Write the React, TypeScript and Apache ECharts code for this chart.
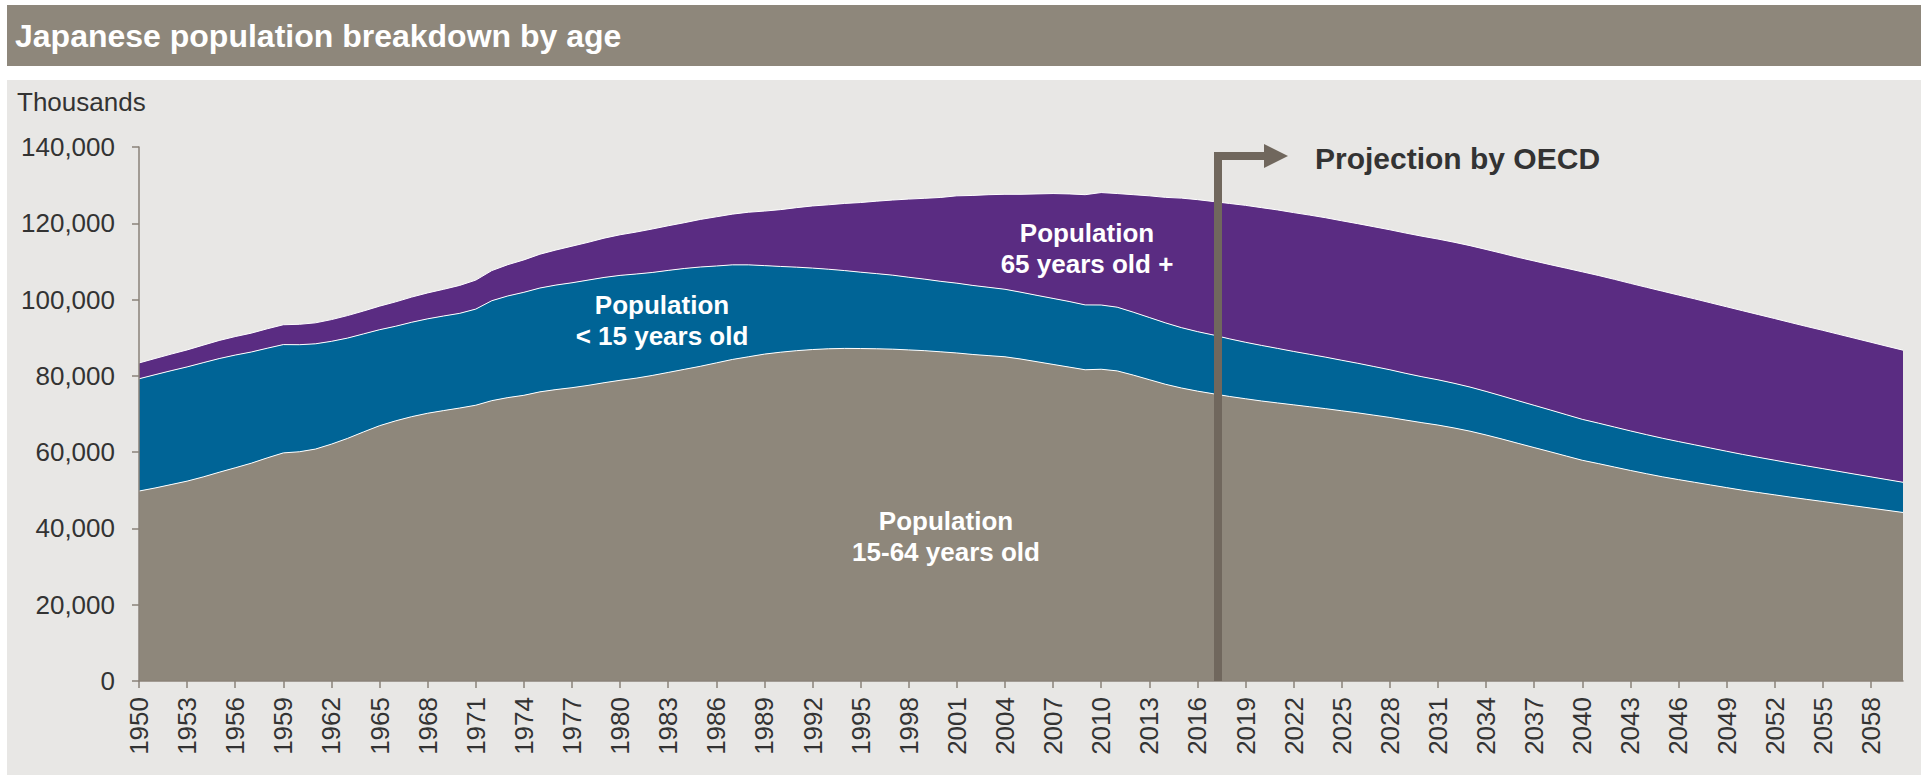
import React, { useEffect, useRef } from "react";
import * as echarts from "echarts";

const years: string[] = [
  "1950","1951","1952","1953","1954","1955","1956","1957","1958","1959",
  "1960","1961","1962","1963","1964","1965","1966","1967","1968","1969",
  "1970","1971","1972","1973","1974","1975","1976","1977","1978","1979",
  "1980","1981","1982","1983","1984","1985","1986","1987","1988","1989",
  "1990","1991","1992","1993","1994","1995","1996","1997","1998","1999",
  "2000","2001","2002","2003","2004","2005","2006","2007","2008","2009",
  "2010","2011","2012","2013","2014","2015","2016","2017","2018","2019",
  "2020","2021","2022","2023","2024","2025","2026","2027","2028","2029",
  "2030","2031","2032","2033","2034","2035","2036","2037","2038","2039",
  "2040","2041","2042","2043","2044","2045","2046","2047","2048","2049",
  "2050","2051","2052","2053","2054","2055","2056","2057","2058","2059",
  "2060",
];

// Population 15-64 years old (thousands)
const ages15to64: number[] = [
  49800, 50600, 51500, 52400, 53500, 54729, 55900, 57100, 58500, 59800,
  60100, 60800, 62100, 63600, 65300, 66928, 68200, 69300, 70200, 70900,
  71566, 72300, 73500, 74300, 74900, 75807, 76400, 76900, 77500, 78200,
  78835, 79400, 80100, 80900, 81700, 82506, 83400, 84300, 85000, 85700,
  86200, 86600, 86900, 87100, 87200, 87165, 87100, 87000, 86800, 86600,
  86300, 86000, 85600, 85300, 85000, 84400, 83700, 83000, 82300, 81600,
  81735, 81300, 80200, 79000, 77800, 76818, 76000, 75300, 74600, 74000,
  73408, 72900, 72400, 71900, 71400, 70846, 70300, 69700, 69100, 68400,
  67730, 67100, 66350, 65500, 64500, 63430, 62300, 61200, 60100, 58980,
  57866, 57000, 56100, 55200, 54350, 53530, 52800, 52100, 51400, 50700,
  50013, 49400, 48800, 48200, 47620, 47062, 46480, 45900, 45330, 44750,
  44183,
];

// Population < 15 years old (thousands)
const agesUnder15: number[] = [
  29430, 29700, 29850, 29950, 29950, 29798, 29550, 29150, 28750, 28400,
  28067, 27600, 26950, 26300, 25700, 25166, 24800, 24750, 24750, 24800,
  24823, 25200, 26200, 26650, 27000, 27221, 27400, 27500, 27600, 27600,
  27507, 27300, 27000, 26750, 26450, 26033, 25400, 24800, 24100, 23200,
  22486, 21900, 21350, 20850, 20400, 20014, 19700, 19400, 19050, 18750,
  18472, 18300, 18100, 17900, 17700, 17521, 17400, 17300, 17200, 17000,
  16839, 16700, 16500, 16300, 16100, 15827, 15600, 15400, 15100, 14800,
  14568, 14300, 14000, 13750, 13500, 13240, 13000, 12750, 12500, 12250,
  12039, 11870, 11710, 11560, 11420, 11287, 11180, 11070, 10960, 10850,
  10732, 10610, 10490, 10370, 10240, 10116, 9970, 9830, 9680, 9530,
  9387, 9230, 9080, 8920, 8770, 8614, 8470, 8330, 8190, 8050,
  7912,
];

// Population 65 years old + (thousands)
const ages65plus: number[] = [
  4150, 4250, 4350, 4450, 4600, 4747, 4850, 4950, 5100, 5200,
  5350, 5500, 5700, 5900, 6000, 6181, 6400, 6600, 6800, 7000,
  7331, 7600, 7900, 8200, 8500, 8865, 9200, 9600, 9900, 10300,
  10647, 11000, 11400, 11700, 12000, 12468, 12900, 13300, 13800, 14300,
  14895, 15600, 16300, 16900, 17600, 18261, 19000, 19700, 20500, 21200,
  22005, 22900, 23600, 24300, 24900, 25672, 26600, 27500, 28200, 28900,
  29484, 29800, 30800, 31900, 32900, 33952, 34600, 35000, 35500, 35900,
  36124, 36300, 36400, 36500, 36550, 36573, 36600, 36650, 36700, 36780,
  36849, 36900, 36980, 37080, 37220, 37407, 37600, 37850, 38100, 38400,
  38678, 38720, 38720, 38680, 38630, 38564, 38420, 38260, 38070, 37880,
  37676, 37420, 37140, 36850, 36550, 36257, 35940, 35620, 35290, 34960,
  34642,
];

const yTicks = { min: 0, max: 140000, interval: 20000 };

const FONT = "'Liberation Sans', Arial, Helvetica, sans-serif";
const TEXT = "#333333";
const AXIS = "#8a8278";

export default function App() {
  const ref = useRef<HTMLDivElement>(null);

  useEffect(() => {
    if (!ref.current) return;
    const chart = echarts.init(ref.current, undefined, { renderer: "svg" });
    const areaSeries = (name: string, data: number[], color: string) => ({
      name,
      type: "line",
      stack: "total",
      data,
      showSymbol: false,
      symbol: "none",
      lineStyle: { color: "#ffffff", width: 1 },
      areaStyle: { color, opacity: 1 },
      itemStyle: { color },
      emphasis: { disabled: true },
      z: 2,
    });

    chart.setOption({
      animation: false,
      textStyle: { fontFamily: FONT },
      grid: { left: 139, right: 24, top: 147, bottom: 101, containLabel: false },
      xAxis: {
        type: "category",
        data: years,
        boundaryGap: false,
        axisLine: { show: true, lineStyle: { color: AXIS, width: 1.5 } },
        axisTick: { show: true, interval: 2, length: 7, lineStyle: { color: AXIS, width: 1.5 } },
        axisLabel: {
          interval: 2,
          rotate: 90,
          margin: 16,
          fontSize: 26,
          color: TEXT,
          fontFamily: FONT,
        },
        splitLine: { show: false },
        z: 5,
      },
      yAxis: {
        type: "value",
        min: yTicks.min,
        max: yTicks.max,
        interval: yTicks.interval,
        axisLine: { show: true, lineStyle: { color: AXIS, width: 1.5 } },
        axisTick: { show: true, length: 7, lineStyle: { color: AXIS, width: 1.5 } },
        axisLabel: {
          margin: 24,
          fontSize: 26,
          color: TEXT,
          fontFamily: FONT,
          formatter: (v: number) => v.toLocaleString("en-US"),
        },
        splitLine: { show: false },
        z: 5,
      },
      series: [
        areaSeries("Population 15-64 years old", ages15to64, "#8e877b"),
        areaSeries("Population < 15 years old", agesUnder15, "#006496"),
        areaSeries("Population 65 years old +", ages65plus, "#5a2c82"),
      ],
      graphic: [
        { type: "rect", z: -10, shape: { x: 7, y: 5, width: 1914, height: 61 }, style: { fill: "#8e877b" }, silent: true },
        { type: "rect", z: -10, shape: { x: 7, y: 80, width: 1914, height: 695 }, style: { fill: "#e8e7e5" }, silent: true },
        {
          type: "text", z: 10, x: 15, y: 36,
          style: { text: "Japanese population breakdown by age", fill: "#ffffff", font: `bold 32px ${FONT}`, verticalAlign: "middle" },
        },
        {
          type: "text", z: 10, x: 17, y: 102,
          style: { text: "Thousands", fill: TEXT, font: `26px ${FONT}`, verticalAlign: "middle" },
        },
        {
          type: "text", z: 10, x: 662, y: 320,
          style: { text: "Population\n< 15 years old", fill: "#ffffff", font: `bold 26px ${FONT}`, align: "center", verticalAlign: "middle", lineHeight: 31 },
        },
        {
          type: "text", z: 10, x: 1087, y: 248,
          style: { text: "Population\n65 years old +", fill: "#ffffff", font: `bold 26px ${FONT}`, align: "center", verticalAlign: "middle", lineHeight: 31 },
        },
        {
          type: "text", z: 10, x: 946, y: 536,
          style: { text: "Population\n15-64 years old", fill: "#ffffff", font: `bold 26px ${FONT}`, align: "center", verticalAlign: "middle", lineHeight: 31 },
        },
        {
          type: "polyline", z: 20,
          shape: { points: [[1218, 681], [1218, 156], [1266, 156]] },
          style: { stroke: "#70675d", lineWidth: 8, fill: "none", lineJoin: "miter" },
        },
        {
          type: "polygon", z: 20,
          shape: { points: [[1264, 144], [1288, 156], [1264, 168]] },
          style: { fill: "#70675d" },
        },
        {
          type: "text", z: 10, x: 1315, y: 158,
          style: { text: "Projection by OECD", fill: TEXT, font: `bold 30px ${FONT}`, verticalAlign: "middle" },
        },
      ],
    });

    return () => chart.dispose();
  }, []);

  return (
    <div
      ref={ref}
      style={{ position: "absolute", left: 0, top: 0, width: 1927, height: 782, background: "#ffffff" }}
    />
  );
}
